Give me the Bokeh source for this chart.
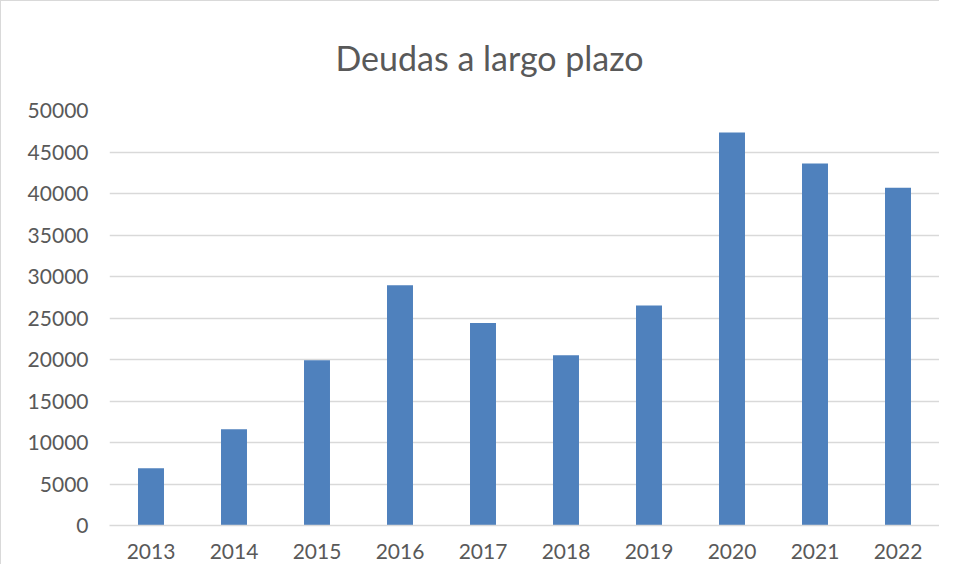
from bokeh.plotting import figure
from bokeh.models import FactorRange, Range1d, SingleIntervalTicker, NumeralTickFormatter
from bokeh.embed import file_html
from bokeh.resources import INLINE

years = ["2013", "2014", "2015", "2016", "2017", "2018", "2019", "2020", "2021", "2022"]
deudas = [6900, 11600, 19900, 28950, 24400, 20500, 26500, 47350, 43600, 40700]
title_text = "Deudas a largo plazo"

TEXT = "#595959"
FONT = "Lato"

p = figure(
    width=939, height=564,
    x_range=FactorRange(*years, range_padding=0),
    y_range=Range1d(0, 50000),
    output_backend="svg", toolbar_location=None,
    min_border_left=108, min_border_right=1,
    min_border_top=109, min_border_bottom=40,
    title=title_text,
)
p.styles = {"border-left": "1px solid #d9d9d9", "border-top": "1px solid #d9d9d9"}

p.vbar(x=years, top=deudas, width=0.313, color="#4F81BD", line_color=None)

p.title.align = "left"
p.title.offset = 226
p.title.vertical_align = "top"
p.title.text_font = FONT
p.title.text_font_size = "34px"
p.title.text_font_style = "normal"
p.title.text_color = TEXT
p.title.standoff = 62

p.outline_line_color = None
p.xgrid.grid_line_color = None
p.ygrid.grid_line_color = "#d9d9d9"
p.ygrid.grid_line_width = 1.5

p.yaxis.ticker = SingleIntervalTicker(interval=5000)
p.yaxis.formatter = NumeralTickFormatter(format="0")
p.yaxis.axis_line_color = None
p.yaxis.major_tick_line_color = None
p.yaxis.minor_tick_line_color = None
p.yaxis.major_label_standoff = 15
p.yaxis.major_label_text_font = FONT
p.yaxis.major_label_text_font_size = "21px"
p.yaxis.major_label_text_color = TEXT

p.xaxis.axis_line_color = "#d9d9d9"
p.xaxis.axis_line_width = 1.5
p.xaxis.major_tick_line_color = None
p.xaxis.minor_tick_line_color = None
p.xaxis.major_label_standoff = 12
p.xaxis.major_label_text_font = FONT
p.xaxis.major_label_text_font_size = "21px"
p.xaxis.major_label_text_color = TEXT

open("out.html", "w").write(file_html(p, INLINE))
